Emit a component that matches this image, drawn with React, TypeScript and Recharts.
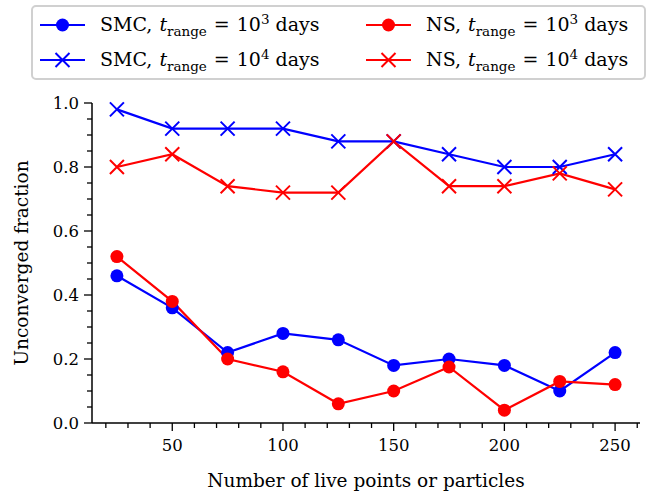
import React from "react";
import { LineChart, Line, XAxis, YAxis } from "recharts";

const N_POINTS = [25, 50, 75, 100, 125, 150, 175, 200, 225, 250];
const SMC_1E3 = [0.46, 0.36, 0.22, 0.28, 0.26, 0.18, 0.2, 0.18, 0.1, 0.22];
const NS_1E3 = [0.52, 0.38, 0.2, 0.16, 0.06, 0.1, 0.175, 0.04, 0.13, 0.12];
const SMC_1E4 = [0.98, 0.92, 0.92, 0.92, 0.88, 0.88, 0.84, 0.8, 0.8, 0.84];
const NS_1E4 = [0.8, 0.84, 0.74, 0.72, 0.72, 0.88, 0.74, 0.74, 0.78, 0.73];

const X_MAJOR = [50, 100, 150, 200, 250];
const X_MINOR = [20, 30, 40, 60, 70, 80, 90, 110, 120, 130, 140, 160, 170, 180, 190, 210, 220, 230, 240, 260];
const Y_MAJOR = [0, 0.2, 0.4, 0.6, 0.8, 1.0];
const Y_MINOR = [0.05, 0.1, 0.15, 0.25, 0.3, 0.35, 0.45, 0.5, 0.55, 0.65, 0.7, 0.75, 0.85, 0.9, 0.95];

const X_DOMAIN: [number, number] = [13.75, 261.25];

const BLUE = "#0000ff";
const RED = "#ff0000";
const FONT = "DejaVu Serif";

const data = N_POINTS.map((n, i) => ({
  n,
  smc3: SMC_1E3[i],
  ns3: NS_1E3[i],
  smc4: SMC_1E4[i],
  ns4: NS_1E4[i],
}));

const XTick = ({ x, y, payload }: any) => {
  const major = X_MAJOR.includes(payload.value);
  return (
    <g>
      <line x1={x} x2={x} y1={y} y2={y + (major ? 8 : 5)} stroke="#000" strokeWidth={1.3} />
      {major && (
        <text x={x} y={y + 28} textAnchor="middle" fontFamily={FONT} fontSize={16.5} fill="#000">
          {payload.value}
        </text>
      )}
    </g>
  );
};

const YTick = ({ x, y, payload }: any) => {
  const major = Y_MAJOR.some((v) => Math.abs(v - payload.value) < 1e-9);
  return (
    <g>
      <line x1={x - (major ? 8 : 5)} x2={x} y1={y} y2={y} stroke="#000" strokeWidth={1.3} />
      {major && (
        <text x={x - 13} y={y + 6} textAnchor="end" fontFamily={FONT} fontSize={16.5} fill="#000">
          {payload.value.toFixed(1)}
        </text>
      )}
    </g>
  );
};

const CrossDot = ({ cx, cy, stroke, index }: any) => {
  if (cx == null || cy == null) return null;
  const s = 7;
  return (
    <path
      key={index}
      d={`M${cx - s},${cy - s}L${cx + s},${cy + s}M${cx - s},${cy + s}L${cx + s},${cy - s}`}
      stroke={stroke}
      strokeWidth={2}
      fill="none"
    />
  );
};

const Marker = ({ color, cross }: { color: string; cross?: boolean }) => (
  <svg width={50} height={20} style={{ display: "block" }}>
    <line x1={2} x2={47} y1={10} y2={10} stroke={color} strokeWidth={2} />
    {cross ? (
      <path d="M17.5,3L31.5,17M17.5,17L31.5,3" stroke={color} strokeWidth={2} />
    ) : (
      <circle cx={24.5} cy={10} r={6.5} fill={color} />
    )}
  </svg>
);

const EntryLabel = ({ name, exp }: { name: string; exp: number }) => (
  <span style={{ fontFamily: FONT, fontSize: 19, whiteSpace: "nowrap" }}>
    {name},<span style={{ marginLeft: 7 }} />
    <i>t</i>
    <sub style={{ fontSize: 13.5 }}>range</sub>
    <span style={{ margin: "0 7px" }}>=</span>10
    <sup style={{ fontSize: 13.5 }}>{exp}</sup>
    <span style={{ marginLeft: 6 }}>days</span>
  </span>
);

const ENTRIES = [
  { left: 5, top: 8, color: BLUE, cross: false, name: "SMC", exp: 3 },
  { left: 5, top: 43, color: BLUE, cross: true, name: "SMC", exp: 4 },
  { left: 331, top: 8, color: RED, cross: false, name: "NS", exp: 3 },
  { left: 331, top: 43, color: RED, cross: true, name: "NS", exp: 4 },
];

const LegendBox = () => (
  <div
    style={{
      position: "absolute",
      left: 31,
      top: 5,
      border: "2px solid #d0d0d0",
      borderRadius: 5,
      background: "#fff",
      width: 615,
      height: 75,
      boxSizing: "border-box",
    }}
  >
    {ENTRIES.map((e, i) => (
      <div
        key={i}
        style={{ position: "absolute", left: e.left, top: e.top, display: "flex", alignItems: "center", height: 20 }}
      >
        <Marker color={e.color} cross={e.cross} />
        <div style={{ marginLeft: 12, lineHeight: "20px" }}>
          <EntryLabel name={e.name} exp={e.exp} />
        </div>
      </div>
    ))}
  </div>
);

export default function App() {
  return (
    <div style={{ position: "absolute", left: 0, top: 0, width: 650, height: 493, background: "#fff" }}>
      <LineChart width={650} height={493} data={data} margin={{ top: 103, right: 10, left: 0, bottom: 0 }}>
        <XAxis
          dataKey="n"
          type="number"
          domain={X_DOMAIN}
          allowDataOverflow
          ticks={[...X_MAJOR, ...X_MINOR]}
          interval={0}
          tick={<XTick />}
          tickLine={false}
          tickSize={0}
          tickMargin={0}
          height={70}
          axisLine={{ stroke: "#000", strokeWidth: 1.5 }}
          label={{
            content: ({ viewBox }: any) => (
              <text
                x={viewBox.x + viewBox.width / 2}
                y={viewBox.y + 64}
                textAnchor="middle"
                fontFamily={FONT}
                fontSize={18.5}
                fill="#000"
              >
                Number of live points or particles
              </text>
            ),
          }}
        />
        <XAxis
          xAxisId="top"
          orientation="top"
          type="number"
          domain={X_DOMAIN}
          allowDataOverflow
          height={0}
          tick={false}
          tickLine={false}
          axisLine={{ stroke: "#000", strokeWidth: 1.5 }}
        />
        <YAxis
          type="number"
          domain={[0, 1]}
          ticks={[...Y_MAJOR, ...Y_MINOR]}
          interval={0}
          tick={<YTick />}
          tickLine={false}
          tickSize={0}
          tickMargin={0}
          width={92}
          axisLine={{ stroke: "#000", strokeWidth: 1.5 }}
          label={{
            content: ({ viewBox }: any) => {
              const cx = 21;
              const cy = viewBox.y + viewBox.height / 2;
              return (
                <text
                  x={cx}
                  y={cy}
                  transform={`rotate(-90 ${cx} ${cy})`}
                  textAnchor="middle"
                  dominantBaseline="central"
                  fontFamily={FONT}
                  fontSize={18.5}
                  fill="#000"
                >
                  Unconverged fraction
                </text>
              );
            },
          }}
        />
        <YAxis
          yAxisId="right"
          orientation="right"
          type="number"
          domain={[0, 1]}
          width={0}
          tick={false}
          tickLine={false}
          axisLine={{ stroke: "#000", strokeWidth: 1.5 }}
        />
        <Line dataKey="smc3" stroke={BLUE} strokeWidth={2.2} dot={{ r: 6.5, fill: BLUE, stroke: BLUE, strokeWidth: 0 }} isAnimationActive={false} />
        <Line dataKey="smc4" stroke={BLUE} strokeWidth={2.2} dot={<CrossDot />} isAnimationActive={false} />
        <Line dataKey="ns3" stroke={RED} strokeWidth={2.2} dot={{ r: 6.5, fill: RED, stroke: RED, strokeWidth: 0 }} isAnimationActive={false} />
        <Line dataKey="ns4" stroke={RED} strokeWidth={2.2} dot={<CrossDot />} isAnimationActive={false} />
      </LineChart>
      <LegendBox />
    </div>
  );
}
